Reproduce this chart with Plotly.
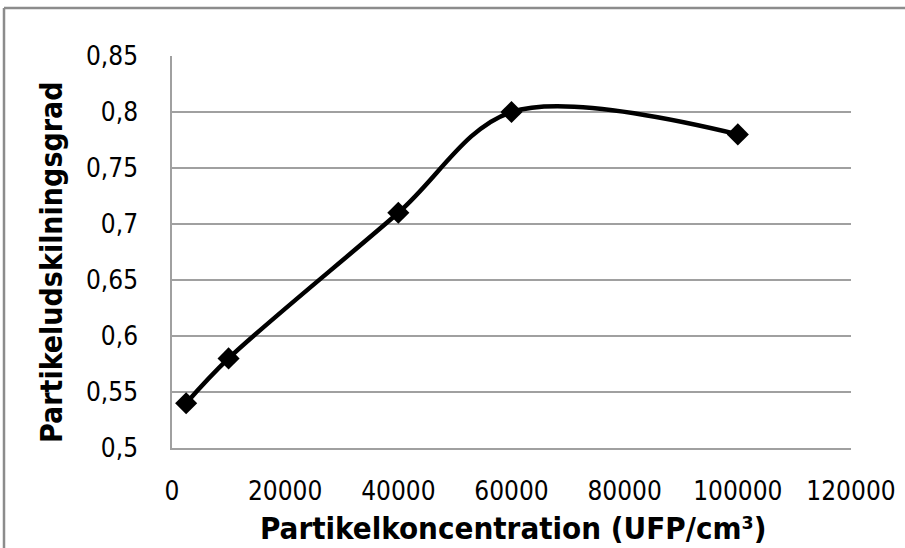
import plotly.graph_objects as go

# Data
concentration = [2500, 10000, 40000, 60000, 100000]
separation = [0.54, 0.58, 0.71, 0.80, 0.78]

x_tickvals = [0, 20000, 40000, 60000, 80000, 100000, 120000]
x_ticktext = ["0", "20000", "40000", "60000", "80000", "100000", "120000"]
y_tickvals = [0.5, 0.55, 0.6, 0.65, 0.7, 0.75, 0.8, 0.85]
y_ticktext = ["0,5", "0,55", "0,6", "0,65", "0,7", "0,75", "0,8", "0,85"]

x_title = "Partikelkoncentration (UFP/cm³)"
y_title = "Partikeludskilningsgrad"

FONT = "DejaVu Sans Condensed, Liberation Sans Narrow, sans-serif"

W, H = 905, 548
L, R, T, B = 172, 54, 56, 100
pw, ph = W - L - R, H - T - B

def px_to_paper_x(px):
    return (px - L) / pw

def px_to_paper_y(py):
    return (H - B - py) / ph

fig = go.Figure()
fig.add_trace(go.Scatter(
    x=concentration, y=separation,
    mode="lines+markers",
    line=dict(color="black", width=4.5, shape="spline", smoothing=0.95),
    marker=dict(symbol="diamond", size=17, color="black"),
    showlegend=False,
    cliponaxis=False,
))

fig.update_layout(
    width=W, height=H,
    margin=dict(l=L, r=R, t=T, b=B, autoexpand=False),
    paper_bgcolor="white", plot_bgcolor="white",
    font=dict(family=FONT, size=26, color="black"),
    xaxis=dict(
        range=[0, 120000], tickvals=x_tickvals, ticktext=x_ticktext,
        showgrid=False, zeroline=False,
        showline=True, linecolor="#a0a0a0", linewidth=1.5,
        ticks="", ticklabelstandoff=19,
        tickfont=dict(family=FONT, size=26, color="black"),
    ),
    yaxis=dict(
        range=[0.5, 0.85], tickvals=y_tickvals, ticktext=y_ticktext,
        showgrid=True, gridcolor="#a0a0a0", gridwidth=1.5,
        zeroline=False,
        showline=True, linecolor="#a0a0a0", linewidth=1.5,
        ticks="", ticklabelstandoff=27,
        tickfont=dict(family=FONT, size=26, color="black"),
    ),
    annotations=[
        dict(text="<b>" + x_title + "</b>", xref="paper", yref="paper",
             x=px_to_paper_x(513), y=px_to_paper_y(528),
             xanchor="center", yanchor="middle", showarrow=False,
             font=dict(family=FONT, size=31, color="black")),
        dict(text="<b>" + y_title + "</b>", xref="paper", yref="paper",
             x=px_to_paper_x(51), y=px_to_paper_y(262),
             xanchor="center", yanchor="middle", showarrow=False, textangle=-90,
             font=dict(family=FONT, size=30, color="black")),
    ],
    shapes=[
        dict(type="line", xref="paper", yref="paper",
             x0=px_to_paper_x(4), x1=px_to_paper_x(910),
             y0=px_to_paper_y(8), y1=px_to_paper_y(8),
             line=dict(color="#8c8c8c", width=2.5)),
        dict(type="line", xref="paper", yref="paper",
             x0=px_to_paper_x(4), x1=px_to_paper_x(4),
             y0=px_to_paper_y(8), y1=px_to_paper_y(560),
             line=dict(color="#8c8c8c", width=2.5)),
    ],
)

fig.write_html("out.html", config={"displayModeBar": False},
               post_script="document.body.style.margin='0';")
